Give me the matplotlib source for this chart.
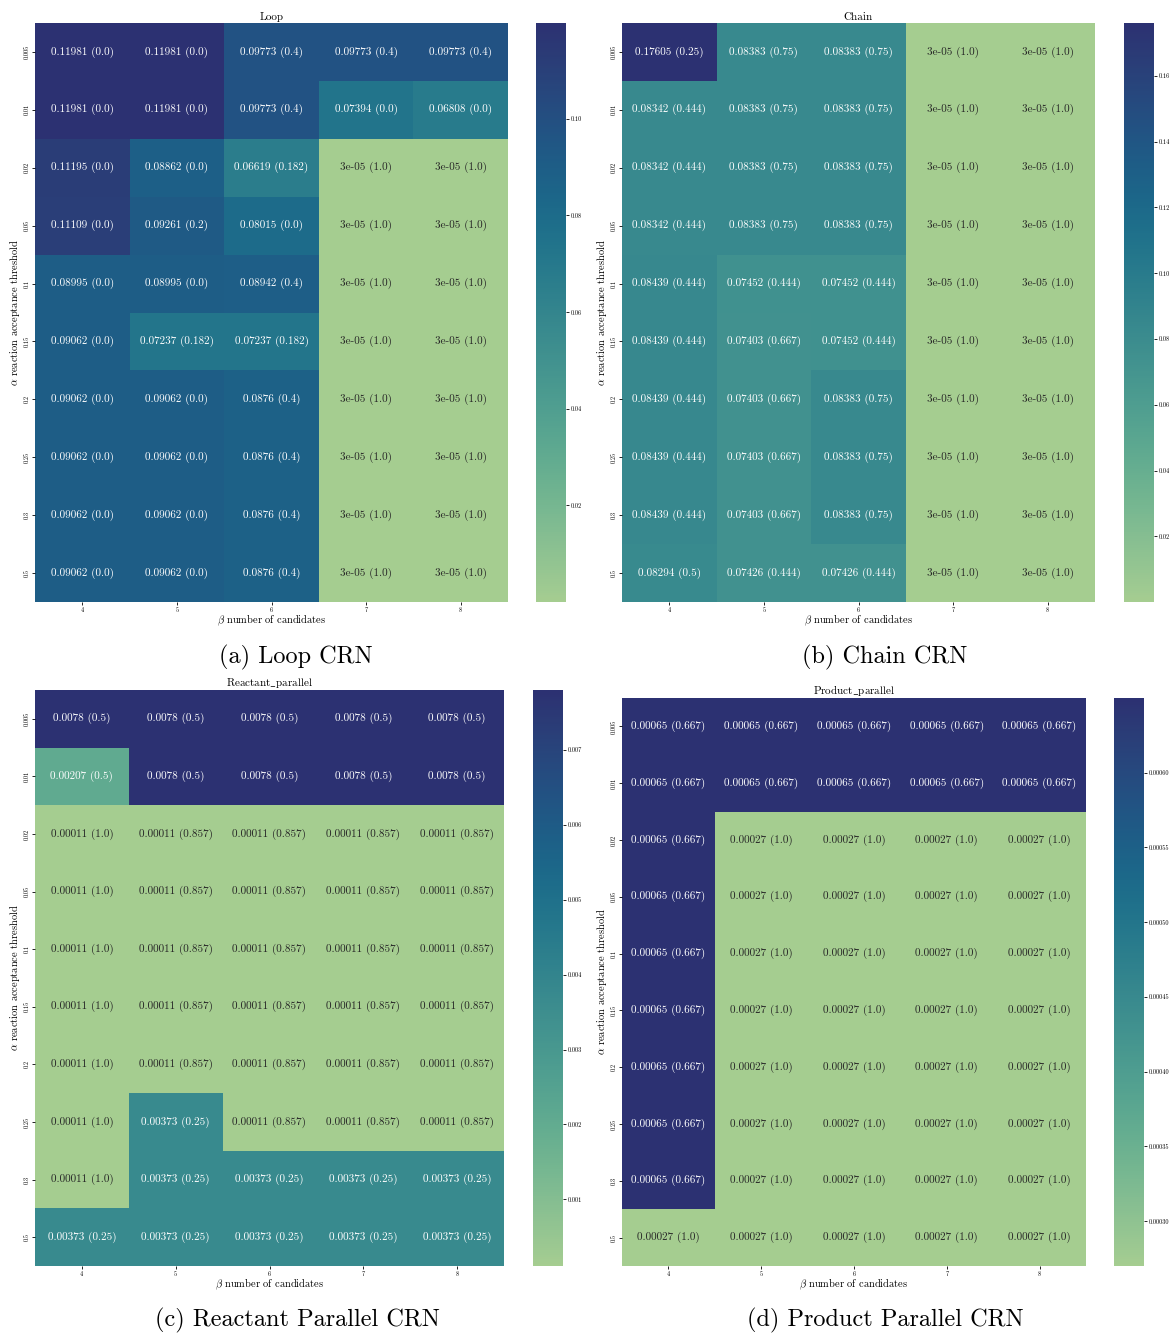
import numpy as np
import matplotlib
matplotlib.use("Agg")
import matplotlib.pyplot as plt
import seaborn as sns

plt.rcParams['font.family'] = ['cmr10', 'DejaVu Serif']
plt.rcParams['mathtext.fontset'] = 'cm'
plt.rcParams['axes.formatter.use_mathtext'] = True

alphas = ["0.005", "0.01", "0.02", "0.05", "0.1", "0.15", "0.2", "0.25", "0.3", "0.5"]
betas = ["4", "5", "6", "7", "8"]

loop_vals = [
    [0.11981, 0.11981, 0.09773, 0.09773, 0.09773],
    [0.11981, 0.11981, 0.09773, 0.07394, 0.06808],
    [0.11195, 0.08862, 0.06619, 3e-05, 3e-05],
    [0.11109, 0.09261, 0.08015, 3e-05, 3e-05],
    [0.08995, 0.08995, 0.08942, 3e-05, 3e-05],
    [0.09062, 0.07237, 0.07237, 3e-05, 3e-05],
    [0.09062, 0.09062, 0.0876, 3e-05, 3e-05],
    [0.09062, 0.09062, 0.0876, 3e-05, 3e-05],
    [0.09062, 0.09062, 0.0876, 3e-05, 3e-05],
    [0.09062, 0.09062, 0.0876, 3e-05, 3e-05],
]
loop_frac = [
    [0.0, 0.0, 0.4, 0.4, 0.4],
    [0.0, 0.0, 0.4, 0.0, 0.0],
    [0.0, 0.0, 0.182, 1.0, 1.0],
    [0.0, 0.2, 0.0, 1.0, 1.0],
    [0.0, 0.0, 0.4, 1.0, 1.0],
    [0.0, 0.182, 0.182, 1.0, 1.0],
    [0.0, 0.0, 0.4, 1.0, 1.0],
    [0.0, 0.0, 0.4, 1.0, 1.0],
    [0.0, 0.0, 0.4, 1.0, 1.0],
    [0.0, 0.0, 0.4, 1.0, 1.0],
]

chain_vals = [
    [0.17605, 0.08383, 0.08383, 3e-05, 3e-05],
    [0.08342, 0.08383, 0.08383, 3e-05, 3e-05],
    [0.08342, 0.08383, 0.08383, 3e-05, 3e-05],
    [0.08342, 0.08383, 0.08383, 3e-05, 3e-05],
    [0.08439, 0.07452, 0.07452, 3e-05, 3e-05],
    [0.08439, 0.07403, 0.07452, 3e-05, 3e-05],
    [0.08439, 0.07403, 0.08383, 3e-05, 3e-05],
    [0.08439, 0.07403, 0.08383, 3e-05, 3e-05],
    [0.08439, 0.07403, 0.08383, 3e-05, 3e-05],
    [0.08294, 0.07426, 0.07426, 3e-05, 3e-05],
]
chain_frac = [
    [0.25, 0.75, 0.75, 1.0, 1.0],
    [0.444, 0.75, 0.75, 1.0, 1.0],
    [0.444, 0.75, 0.75, 1.0, 1.0],
    [0.444, 0.75, 0.75, 1.0, 1.0],
    [0.444, 0.444, 0.444, 1.0, 1.0],
    [0.444, 0.667, 0.444, 1.0, 1.0],
    [0.444, 0.667, 0.75, 1.0, 1.0],
    [0.444, 0.667, 0.75, 1.0, 1.0],
    [0.444, 0.667, 0.75, 1.0, 1.0],
    [0.5, 0.444, 0.444, 1.0, 1.0],
]

react_vals = [
    [0.0078, 0.0078, 0.0078, 0.0078, 0.0078],
    [0.00207, 0.0078, 0.0078, 0.0078, 0.0078],
    [0.00011, 0.00011, 0.00011, 0.00011, 0.00011],
    [0.00011, 0.00011, 0.00011, 0.00011, 0.00011],
    [0.00011, 0.00011, 0.00011, 0.00011, 0.00011],
    [0.00011, 0.00011, 0.00011, 0.00011, 0.00011],
    [0.00011, 0.00011, 0.00011, 0.00011, 0.00011],
    [0.00011, 0.00373, 0.00011, 0.00011, 0.00011],
    [0.00011, 0.00373, 0.00373, 0.00373, 0.00373],
    [0.00373, 0.00373, 0.00373, 0.00373, 0.00373],
]
react_frac = [
    [0.5, 0.5, 0.5, 0.5, 0.5],
    [0.5, 0.5, 0.5, 0.5, 0.5],
    [1.0, 0.857, 0.857, 0.857, 0.857],
    [1.0, 0.857, 0.857, 0.857, 0.857],
    [1.0, 0.857, 0.857, 0.857, 0.857],
    [1.0, 0.857, 0.857, 0.857, 0.857],
    [1.0, 0.857, 0.857, 0.857, 0.857],
    [1.0, 0.25, 0.857, 0.857, 0.857],
    [1.0, 0.25, 0.25, 0.25, 0.25],
    [0.25, 0.25, 0.25, 0.25, 0.25],
]

prod_vals = [
    [0.00065, 0.00065, 0.00065, 0.00065, 0.00065],
    [0.00065, 0.00065, 0.00065, 0.00065, 0.00065],
    [0.00065, 0.00027, 0.00027, 0.00027, 0.00027],
    [0.00065, 0.00027, 0.00027, 0.00027, 0.00027],
    [0.00065, 0.00027, 0.00027, 0.00027, 0.00027],
    [0.00065, 0.00027, 0.00027, 0.00027, 0.00027],
    [0.00065, 0.00027, 0.00027, 0.00027, 0.00027],
    [0.00065, 0.00027, 0.00027, 0.00027, 0.00027],
    [0.00065, 0.00027, 0.00027, 0.00027, 0.00027],
    [0.00027, 0.00027, 0.00027, 0.00027, 0.00027],
]
prod_frac = [
    [0.667, 0.667, 0.667, 0.667, 0.667],
    [0.667, 0.667, 0.667, 0.667, 0.667],
    [0.667, 1.0, 1.0, 1.0, 1.0],
    [0.667, 1.0, 1.0, 1.0, 1.0],
    [0.667, 1.0, 1.0, 1.0, 1.0],
    [0.667, 1.0, 1.0, 1.0, 1.0],
    [0.667, 1.0, 1.0, 1.0, 1.0],
    [0.667, 1.0, 1.0, 1.0, 1.0],
    [0.667, 1.0, 1.0, 1.0, 1.0],
    [1.0, 1.0, 1.0, 1.0, 1.0],
]

titles = ["Loop", "Chain", r"Reactant$\_$parallel", r"Product$\_$parallel"]
captions = ["(a) Loop CRN", "(b) Chain CRN", "(c) Reactant Parallel CRN", "(d) Product Parallel CRN"]
cbar_ticks = [
    [0.02, 0.04, 0.06, 0.08, 0.10],
    [0.02, 0.04, 0.06, 0.08, 0.10, 0.12, 0.14, 0.16],
    [0.001, 0.002, 0.003, 0.004, 0.005, 0.006, 0.007],
    [0.00030, 0.00035, 0.00040, 0.00045, 0.00050, 0.00055, 0.00060],
]
cbar_decimals = [2, 2, 3, 5]

W, H = 1171, 1334
fig = plt.figure(figsize=(W / 100, H / 100), dpi=100)


def px_axes(x0, y0, x1, y1):
    return fig.add_axes([x0 / W, 1 - y1 / H, (x1 - x0) / W, (y1 - y0) / H])


# pixel boxes: heatmap (x0,y0,x1,y1), colorbar (x0,x1), caption (cx, cy)
layout = [
    ((35, 23, 508, 602), (536, 566), (296, 657)),
    ((622, 23, 1095, 602), (1124, 1154), (885, 657)),
    ((35, 690, 504, 1266), (533, 563), (297, 1320)),
    ((622, 698, 1086, 1266), (1114, 1144), (885, 1320)),
]

datasets = [(loop_vals, loop_frac), (chain_vals, chain_frac),
            (react_vals, react_frac), (prod_vals, prod_frac)]

for (vals, frac), title, cap, (hb, cb, cp), ticks, dec in zip(
        datasets, titles, captions, layout, cbar_ticks, cbar_decimals):
    v = np.array(vals, dtype=float)
    annot = np.array([[f"{a} ({b})" for a, b in zip(rv, rf)] for rv, rf in zip(vals, frac)])
    ax = px_axes(*hb)
    cax = px_axes(cb[0], hb[1], cb[1], hb[3])
    sns.heatmap(v, ax=ax, cbar_ax=cax, cmap="crest", annot=annot, fmt="",
                annot_kws={"fontsize": 8}, xticklabels=betas, yticklabels=alphas)
    ax.set_title(title, fontsize=8, pad=2)
    ax.set_xlabel(r"$\beta$ number of candidates", fontsize=7.5, labelpad=0)
    ax.set_ylabel(r"$\alpha$ reaction acceptance threshold", fontsize=7.5)
    ax.yaxis.set_label_coords(-13.0 / (hb[2] - hb[0]), 0.5)
    ax.tick_params(axis="both", labelsize=4.5, length=2.5, width=0.6, pad=1.5)
    for t in ax.get_yticklabels():
        t.set_rotation(90)
        t.set_va("center")
    for t in ax.get_xticklabels():
        t.set_rotation(0)
    cax.set_yticks(ticks)
    cax.set_yticklabels([f"{t:.{dec}f}" for t in ticks])
    cax.tick_params(labelsize=4.5, length=2.5, width=0.6, pad=1)
    fig.text(cp[0] / W, 1 - cp[1] / H, cap, fontsize=17.5, ha="center", va="center")

fig.savefig("out.png", dpi=100)
